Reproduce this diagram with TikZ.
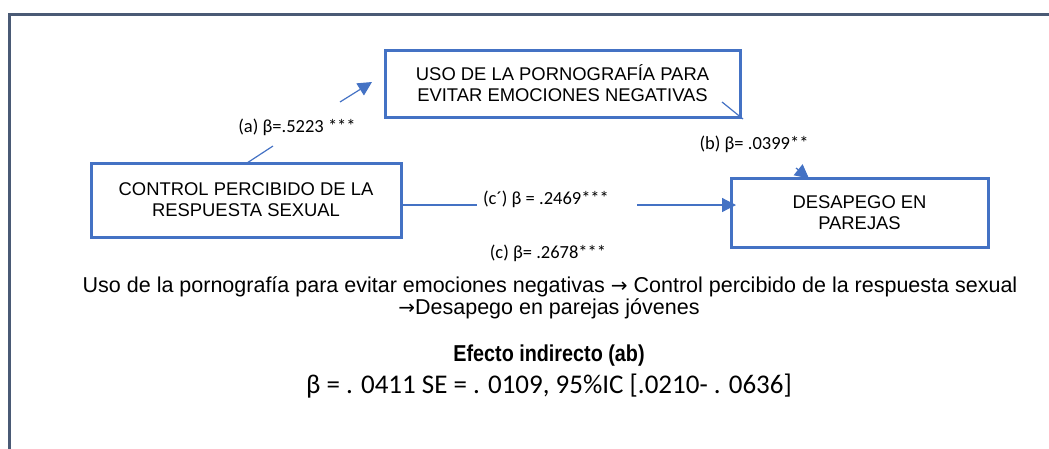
\documentclass[tikz,border=0pt]{standalone}
\usepackage{fontspec}
\setmainfont{Liberation Sans}
\newfontfamily\carl{Carlito}
\newfontfamily\arrowfont{DejaVu Sans}
\usetikzlibrary{arrows.meta}
\definecolor{boxblue}{HTML}{4472C4}
\definecolor{framecol}{HTML}{4A5A75}
\newcommand{\rarr}{{\arrowfont\fontsize{20}{20}\selectfont →}}
\begin{document}
\begin{tikzpicture}[x=1pt,y=-1pt,
  box/.style={draw=boxblue, line width=3pt, align=center, inner sep=0pt,
    font=\fontsize{18.4}{21}\selectfont},
  conn/.style={draw=boxblue, line width=1.2pt},
  tipped/.style={conn, -{Triangle[length=14pt,width=14pt]}},
  lab/.style={font=\carl\fontsize{18.5}{22}\selectfont, inner sep=0pt},
  body/.style={font=\fontsize{21.5}{22}\selectfont, align=center, inner sep=0pt}]
\useasboundingbox (0,0) rectangle (1049,448);
\begin{scope}
\clip (0,0) rectangle (1049,448);
\draw[framecol, line width=3pt] (9.5,470) -- (9.5,14.5) -- (1070,14.5);
\end{scope}
% boxes
\node[box, minimum width=355pt, minimum height=67pt] (med) at (562.5,83.5)
  {USO DE LA PORNOGRAFÍA PARA\\EVITAR EMOCIONES NEGATIVAS};
\node[box, minimum width=310pt, minimum height=74pt] (ctrl) at (246,200)
  {CONTROL PERCIBIDO DE LA\\RESPUESTA SEXUAL};
\node[box, minimum width=257pt, minimum height=69pt] (out) at (859.5,212.5)
  {DESAPEGO EN\\PAREJAS};
% labels
\node[lab] (la) at (297,127) {(a) β=.5223 ***};
\node[lab] (lb) at (754,144) {(b) β= .0399**};
\node[lab] (lcp) at (546,199) {(c´) β = .2469***};
\node[lab] (lc) at (548,253) {(c) β= .2678***};
% path a
\coordinate (a0) at (247,163);
\coordinate (a1) at (273,146);
\coordinate (a2) at (340,102);
\coordinate (a3) at (372,82);
\draw[conn] (a0) -- (a1);
\draw[tipped] (a2) -- (a3);
% path b
\coordinate (b0) at (722,102);
\coordinate (b1) at (743,119);
\coordinate (b2) at (796,168);
\coordinate (b3) at (809,178.5);
\draw[conn] (b0) -- (b1);
\draw[tipped] (b2) -- (b3);
% path c'
\coordinate (c1) at (477,205);
\coordinate (c2) at (637,205);
\coordinate (c3) at (736,205);
\draw[conn] (ctrl.east |- c1) -- (c1);
\draw[tipped] (c2) -- (c3);
% bottom text
\node[body] (t1) at (550,287) {Uso de la pornografía para evitar emociones negativas \rarr{} Control percibido de la respuesta sexual};
\node[body] (t2) at (549,309) {\rarr{}Desapego en parejas jóvenes};
\node[font=\bfseries\fontsize{23}{26}\selectfont, inner sep=0pt] (t3) at (549,356) {\scalebox{0.86}[1]{Efecto indirecto (ab)}};
\node[font=\carl\fontsize{27}{30}\selectfont, inner sep=0pt] (t4) at (549,386) {β = . 0411 SE = . 0109, 95\%IC [.0210- . 0636]};
\end{tikzpicture}
\end{document}
